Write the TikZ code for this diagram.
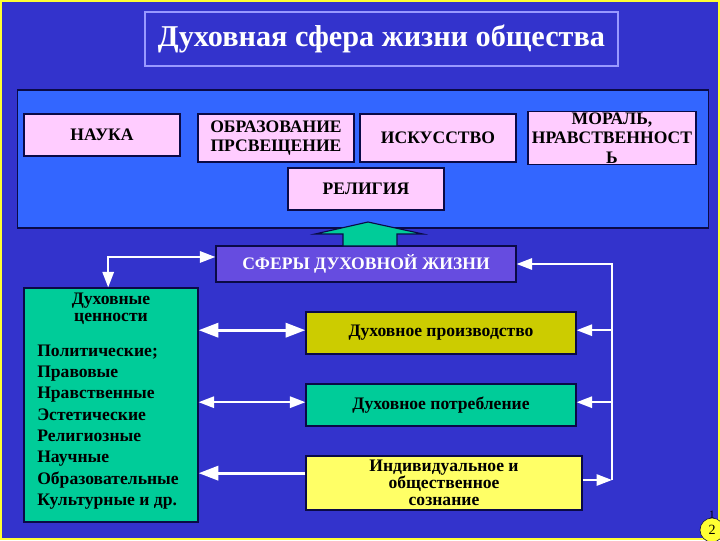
\documentclass[tikz,border=0pt]{standalone}
\usepackage{fontspec}
\setmainfont{Liberation Serif}
\usetikzlibrary{arrows.meta,positioning}
\definecolor{fon}{RGB}{51,51,204}
\definecolor{panel}{RGB}{51,102,255}
\definecolor{rama}{RGB}{10,10,70}
\definecolor{rozov}{RGB}{255,204,255}
\definecolor{sirenev}{RGB}{102,76,224}
\definecolor{biruza}{RGB}{0,204,153}
\definecolor{oliva}{RGB}{204,204,0}
\definecolor{limon}{RGB}{255,255,102}
\definecolor{zhelt}{RGB}{255,255,51}
\definecolor{svetl}{RGB}{153,153,255}
\begin{document}
\begin{tikzpicture}[x=0.025cm,y=-0.025cm,
	box/.style={draw=rama,line width=0.8pt,align=center,inner sep=1pt,
		font=\bfseries\fontsize{12.5}{14}\selectfont},
	pink/.style={box,fill=rozov,minimum width=3.9cm,minimum height=1.2cm},
	wide/.style={box,minimum width=6.75cm,minimum height=1.05cm},
	link/.style={white,line width=1.5pt,>={Triangle[length=11pt,width=8pt]}},
	fat/.style={link,line width=2.2pt,>={Triangle[length=14pt,width=10pt]}}]
	\useasboundingbox (0,0) rectangle (720,540);
	\fill[zhelt] (0,0) rectangle (720,540);
	\fill[fon] (2,1.5) rectangle (718,538);
	\node[draw=svetl,line width=1pt,minimum width=11.825cm,minimum height=1.35cm,text=white,
		font=\bfseries\fontsize{21.5}{24}\selectfont] (title) at (381.5,39) {Духовная сфера жизни общества};
	\node[draw=rama,fill=panel,line width=0.8pt,minimum width=17.25cm,minimum height=3.45cm] (sfera) at (363,159) {};
	\node[pink,minimum height=1.05cm] (nauka) at (102,135) {НАУКА};
	\node[pink] (obraz) at (276,138) {ОБРАЗОВАНИЕ\\ПРСВЕЩЕНИЕ};
	\node[pink] (iskus) at (438,138) {ИСКУССТВО};
	\node[pink,minimum width=4.2cm] (moral) at (612,138) {МОРАЛЬ,\\НРАВСТВЕННОСТ\\Ь};
	\node[pink,minimum height=1.05cm] (relig) at (366,189) {РЕЛИГИЯ};
	\node[box,fill=sirenev,text=white,minimum width=7.5cm,minimum height=0.9cm] (sfery) at (366,264) {СФЕРЫ ДУХОВНОЙ ЖИЗНИ};
	\filldraw[fill=biruza,draw=rama,line width=0.8pt] (343,246) -- (343,234) -- (315,234) -- (368,222)
		-- (423,234) -- (397,234) -- (397,246) -- cycle;
	\node[box,fill=biruza,minimum width=4.35cm,minimum height=5.85cm] (cennosti) at (111,405) {};
	\node[align=center,font=\bfseries\fontsize{12.5}{12}\selectfont] (cenzag) at (111,309) {Духовные\\ценности};
	\node[anchor=west,align=left,inner sep=0pt,font=\bfseries\fontsize{12.5}{15.2}\selectfont] (spisok) at (37,427)
		{Политические;\\Правовые\\Нравственные\\Эстетические\\Религиозные\\Научные\\Образовательные\\Культурные и др.};
	\node[wide,fill=oliva] (proizv) at (441,333) {Духовное производство};
	\node[wide,fill=biruza] (potreb) at (441,405) {Духовное потребление};
	\node[wide,fill=limon,minimum width=6.9cm,minimum height=1.35cm,font=\bfseries\fontsize{12.5}{12}\selectfont]
		(soznan) at (444,483) {Индивидуальное и\\общественное\\сознание};
	\coordinate (bend) at (612,480);
	\coordinate (sozL) at ([yshift=7pt]soznan.west);
	\draw[link,<->] ([yshift=5pt]sfery.west) -| ([xshift=-2pt]cennosti.north);
	\draw[fat,<->] ([yshift=2pt]cennosti.east |- proizv) -- ([yshift=2pt]proizv.west);
	\draw[link,<->] ([yshift=2pt]cennosti.east |- potreb) -- ([yshift=2pt]potreb.west);
	\draw[fat,->] (sozL) -- (cennosti.east |- sozL);
	\draw[link,->] (soznan.east |- bend) -- (bend);
	\draw[link,->] (bend) |- (sfery.east);
	\draw[link,->] ([yshift=2pt]bend |- proizv.east) -- ([yshift=2pt]proizv.east);
	\draw[link,->] ([yshift=2pt]bend |- potreb.east) -- ([yshift=2pt]potreb.east);
	\node[circle,draw=rama,fill=zhelt,inner sep=0pt,minimum size=0.6cm,font=\fontsize{10}{10}\selectfont] (stran) at (712,530) {2};
	\node[font=\fontsize{8}{8}\selectfont,inner sep=0pt] (stran1) at (712,515) {1};
\end{tikzpicture}
\end{document}
